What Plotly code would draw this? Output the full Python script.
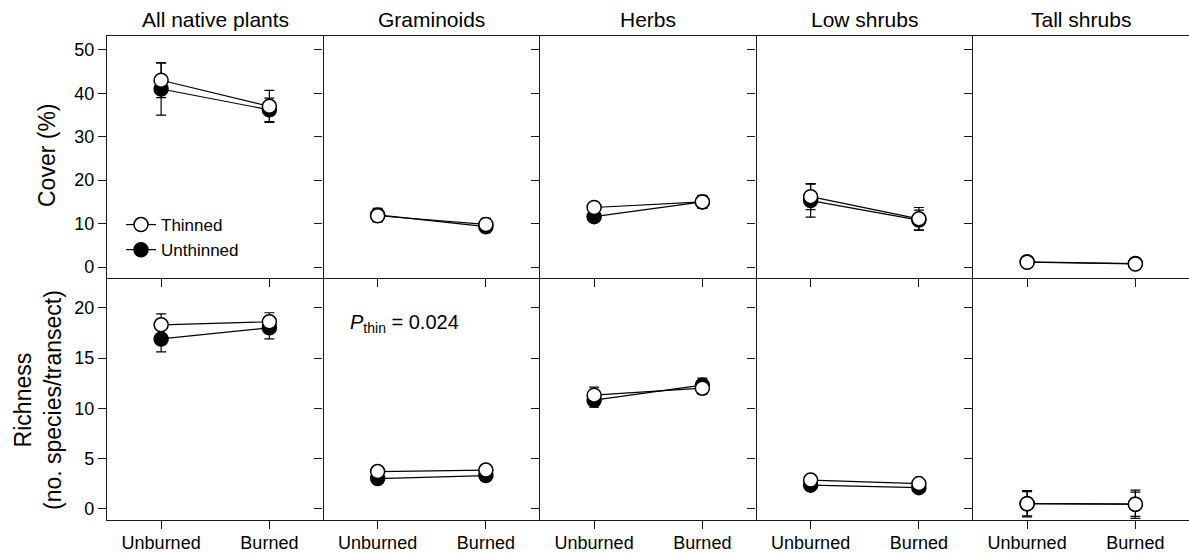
import plotly.graph_objects as go

groups = ["All native plants", "Graminoids", "Herbs", "Low shrubs", "Tall shrubs"]
treatments = ["Unburned", "Burned"]

# Cover (%)
cover_thinned = [[43.0, 37.0], [11.8, 9.8], [13.7, 15.0], [16.2, 11.1], [1.1, 0.7]]
cover_thinned_err = [[4.0, 3.7], [1.4, 1.4], [1.0, 1.4], [3.0, 2.6], [0.6, 0.4]]
cover_unthinned = [[41.0, 36.2], [12.0, 9.3], [11.6, 15.0], [15.3, 10.8], [1.2, 0.8]]
cover_unthinned_err = [[6.0, 2.7], [1.5, 1.4], [1.2, 1.5], [3.8, 2.3], [0.5, 0.4]]

# Richness (no. species/transect)
rich_thinned = [[18.3, 18.6], [3.7, 3.85], [11.3, 12.0], [2.85, 2.5], [0.5, 0.45]]
rich_thinned_err = [[1.1, 0.9], [0.4, 0.4], [0.8, 0.6], [0.3, 0.3], [1.3, 1.4]]
rich_unthinned = [[16.9, 18.0], [3.0, 3.3], [10.8, 12.3], [2.35, 2.1], [0.5, 0.45]]
rich_unthinned_err = [[1.3, 1.1], [0.3, 0.3], [0.7, 0.7], [0.3, 0.3], [1.2, 1.2]]

cover_ticks = [0, 10, 20, 30, 40, 50]
rich_ticks = [0, 5, 10, 15, 20]

W, H = 1189, 554
FONT = "Liberation Sans, Arial, Helvetica, sans-serif"
AX = "#1a1a1a"

panel_left = [107, 323.5, 540, 756.5, 973]
panel_right = [323.5, 540, 756.5, 973, 1189]
top_row = (36, 278)
bot_row = (278, 520)

fig = go.Figure()

def ydom(r):
    return [1 - r[1] / H, 1 - r[0] / H]

rows = [
    (top_row, cover_thinned, cover_thinned_err, cover_unthinned, cover_unthinned_err, [-2.53, 53.2], cover_ticks),
    (bot_row, rich_thinned, rich_thinned_err, rich_unthinned, rich_unthinned_err, [-1.12, 22.96], rich_ticks),
]

n = 0
for ri, (rr, th, the, un, une, yr, yt) in enumerate(rows):
    for ci in range(5):
        n += 1
        xa = "x" if n == 1 else f"x{n}"
        ya = "y" if n == 1 else f"y{n}"
        xkey = "xaxis" if n == 1 else f"xaxis{n}"
        ykey = "yaxis" if n == 1 else f"yaxis{n}"
        xr = [-0.5, 1.5] if ci < 4 else [-0.5, 1.5 - (216.5 - (panel_right[ci] - panel_left[ci])) / 108.25]
        fig.add_trace(go.Scatter(
            x=treatments, y=un[ci], xaxis=xa, yaxis=ya,
            mode="lines+markers", name="Unthinned",
            showlegend=(n == 1), legendrank=2,
            line=dict(color="black", width=1.2),
            marker=dict(symbol="circle", size=14, color="black", line=dict(color="black", width=1.5)),
            error_y=dict(type="data", array=une[ci], color="black", thickness=1.2, width=5),
        ))
        fig.add_trace(go.Scatter(
            x=treatments, y=th[ci], xaxis=xa, yaxis=ya,
            mode="lines+markers", name="Thinned",
            showlegend=(n == 1), legendrank=1,
            line=dict(color="black", width=1.2),
            marker=dict(symbol="circle", size=14, color="white", line=dict(color="black", width=1.5)),
            error_y=dict(type="data", array=the[ci], color="black", thickness=1.2, width=5),
        ))
        fig.layout[xkey] = dict(
            domain=[panel_left[ci] / W, panel_right[ci] / W], anchor=ya,
            type="category", categoryorder="array", categoryarray=treatments,
            range=xr, showgrid=False, zeroline=False,
            showline=True, linecolor=AX, linewidth=1.2, mirror=(ri == 0),
            ticks="outside", ticklen=8, tickwidth=1.2, tickcolor=AX,
            showticklabels=(ri == 1), ticklabelstandoff=-2,
            tickfont=dict(family=FONT, size=18, color="black"),
        )
        fig.layout[ykey] = dict(
            domain=ydom(rr), anchor=xa, range=yr,
            tickvals=yt, showgrid=False, zeroline=False,
            showline=True, linecolor=AX, linewidth=1.2, mirror=False,
            ticks="outside", ticklen=8, tickwidth=1.2, tickcolor=AX,
            showticklabels=(ci == 0),
            tickfont=dict(family=FONT, size=18, color="black"),
        )

annotations = []
for ci, g in enumerate(groups):
    cx = (panel_left[ci] + min(panel_right[ci], panel_left[ci] + 216.5)) / 2
    annotations.append(dict(
        text=g, xref="paper", yref="paper", x=cx / W, y=1 - 19 / H,
        xanchor="center", yanchor="middle", showarrow=False,
        font=dict(family=FONT, size=21, color="black"),
    ))

annotations.append(dict(
    text="Cover (%)", xref="paper", yref="paper", x=47 / W, y=1 - 155 / H,
    xanchor="center", yanchor="middle", textangle=-90, showarrow=False,
    font=dict(family=FONT, size=23, color="black"),
))
annotations.append(dict(
    text="Richness<br>(no. species/transect)", xref="paper", yref="paper", x=38 / W, y=1 - 400 / H,
    xanchor="center", yanchor="middle", textangle=-90, showarrow=False,
    font=dict(family=FONT, size=23, color="black"),
))
annotations.append(dict(
    text="<i>P</i><sub>thin</sub> = 0.024", xref="paper", yref="paper", x=348 / W, y=1 - 323 / H,
    xanchor="left", yanchor="middle", showarrow=False,
    font=dict(family=FONT, size=20, color="black"),
))

fig.update_layout(
    width=W, height=H,
    margin=dict(l=0, r=0, t=0, b=0),
    paper_bgcolor="white", plot_bgcolor="white",
    annotations=annotations,
    showlegend=True,
    legend=dict(
        x=121 / W, y=1 - 207 / H, xanchor="left", yanchor="top",
        bgcolor="rgba(0,0,0,0)", borderwidth=0,
        font=dict(family=FONT, size=17, color="black"),
        itemwidth=30, tracegroupgap=0,
    ),
    font=dict(family=FONT, color="black"),
)

fig.write_html(
    "out.html",
    config={"displayModeBar": False},
    post_script="document.body.style.margin='0';document.body.style.padding='0';document.body.style.overflow='hidden';",
)
